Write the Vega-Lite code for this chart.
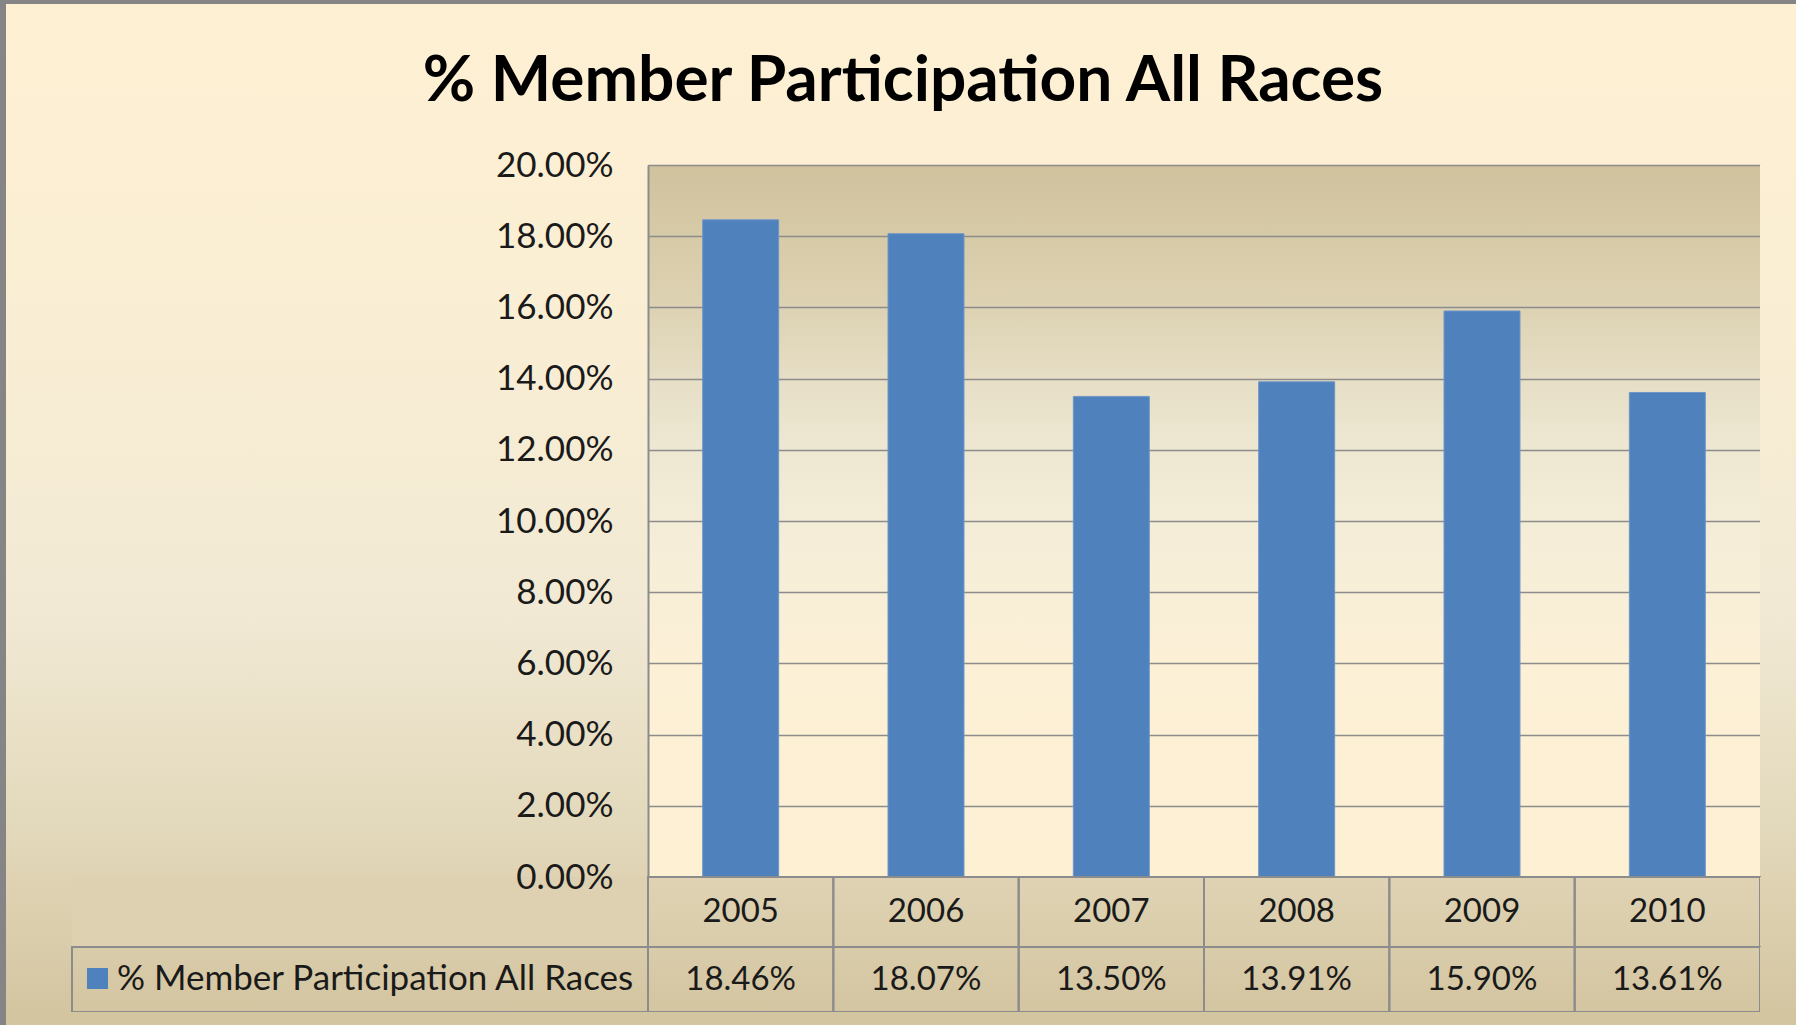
{
  "$schema": "https://vega.github.io/schema/vega-lite/v6.json",
  "padding": 0,
  "background": "#DDD1B1",
  "config": {"view": {"stroke": null}, "text": {"fontSize": 1}},
  "title": {"text": "% Member Participation All Races", "font": "Lato", "fontSize": 64, "fontWeight": "bold", "color": "#000000", "anchor": "middle", "offset": -114, "dx": 5},
  "data": {"values": [
    {"year": "2005", "pct": 0.1846},
    {"year": "2006", "pct": 0.1807},
    {"year": "2007", "pct": 0.1350},
    {"year": "2008", "pct": 0.1391},
    {"year": "2009", "pct": 0.1590},
    {"year": "2010", "pct": 0.1361}
  ]},
  "columns": 5,
  "spacing": 0,
  "bounds": "flush",
  "concat": [
    {"width": 6, "height": 4, "mark": {"type": "text", "text": ""}, "view": {"fill": "#858585"}},
    {"width": 66, "height": 4, "mark": {"type": "text", "text": ""}, "view": {"fill": "#858585"}},
    {"width": 576, "height": 4, "mark": {"type": "text", "text": ""}, "view": {"fill": "#858585"}},
    {"width": 1112, "height": 4, "mark": {"type": "text", "text": ""}, "view": {"fill": "#858585"}},
    {"width": 36, "height": 4, "mark": {"type": "text", "text": ""}, "view": {"fill": "#858585"}},

    {"width": 6, "height": 161, "mark": {"type": "text", "text": ""}, "view": {"fill": "#858585"}},
    {"width": 66, "height": 161, "mark": {"type": "text", "text": ""},
     "view": {"fill": {"gradient": "linear", "x1": 0, "y1": 0, "x2": 0, "y2": 1, "stops": [{"offset": 0, "color": "#FEF0D3"}, {"offset": 1, "color": "#FCEFD3"}]}}},
    {"width": 576, "height": 161, "mark": {"type": "text", "text": ""},
     "view": {"fill": {"gradient": "linear", "x1": 0, "y1": 0, "x2": 0, "y2": 1, "stops": [{"offset": 0, "color": "#FEF0D3"}, {"offset": 1, "color": "#FCEFD3"}]}}},
    {"width": 1112, "height": 161, "mark": {"type": "text", "text": ""},
     "view": {"fill": {"gradient": "linear", "x1": 0, "y1": 0, "x2": 0, "y2": 1, "stops": [{"offset": 0, "color": "#FEF0D3"}, {"offset": 1, "color": "#FCEFD3"}]}}},
    {"width": 36, "height": 161, "mark": {"type": "text", "text": ""},
     "view": {"fill": {"gradient": "linear", "x1": 0, "y1": 0, "x2": 0, "y2": 1, "stops": [{"offset": 0, "color": "#FEF0D3"}, {"offset": 1, "color": "#FCEFD3"}]}}},

    {"width": 6, "height": 712, "mark": {"type": "text", "text": ""}, "view": {"fill": "#858585"}},
    {"width": 66, "height": 712, "mark": {"type": "text", "text": ""},
     "view": {"fill": {"gradient": "linear", "x1": 0, "y1": 0, "x2": 0, "y2": 1, "stops": [
       {"offset": 0, "color": "#FCEFD3"}, {"offset": 0.26, "color": "#F9EED4"}, {"offset": 0.632, "color": "#F1E9D4"}, {"offset": 0.92, "color": "#E3D9BC"}, {"offset": 1, "color": "#DFD3B4"}]}}},
    {"width": 576, "height": 712, "mark": {"type": "text", "text": ""},
     "view": {"fill": {"gradient": "linear", "x1": 0, "y1": 0, "x2": 0, "y2": 1, "stops": [
       {"offset": 0, "color": "#FCEFD3"}, {"offset": 0.26, "color": "#F9EED4"}, {"offset": 0.632, "color": "#F1E9D4"}, {"offset": 0.92, "color": "#E3D9BC"}, {"offset": 1, "color": "#DFD3B4"}]}}},
    {"width": 1112, "height": 712,
     "view": {"fill": {"gradient": "linear", "x1": 0, "y1": 0, "x2": 0, "y2": 1, "stops": [
       {"offset": 0, "color": "#D1C29E"}, {"offset": 0.1, "color": "#D7CAA7"}, {"offset": 0.2, "color": "#DDD2B3"}, {"offset": 0.3, "color": "#E6DEC5"}, {"offset": 0.4, "color": "#EEE8D3"}, {"offset": 0.55, "color": "#F6EED8"}, {"offset": 0.7, "color": "#FCF0D6"}, {"offset": 1, "color": "#FEF0D3"}]}},
     "mark": {"type": "bar", "stroke": "#7096C8", "strokeWidth": 1},
     "encoding": {
       "x": {"field": "year", "type": "nominal", "sort": null, "axis": null, "scale": {"paddingInner": 0.59, "paddingOuter": 0.295}},
       "y": {"field": "pct", "type": "quantitative", "scale": {"domain": [0, 0.2], "nice": false},
             "axis": {"title": null, "values": [0, 0.02, 0.04, 0.06, 0.08, 0.1, 0.12, 0.14, 0.16, 0.18, 0.2], "format": ".2%",
                      "labelFont": "Lato", "labelFontSize": 35, "labelColor": "#1A1A1A", "labelPadding": 35, "ticks": false,
                      "domainColor": "#8C8C8C", "domainWidth": 2, "gridColor": "#8C8C8C", "gridWidth": 1.5, "labelBound": false}},
       "color": {"datum": "% Member Participation All Races", "type": "nominal", "scale": {"range": ["#4F81BD"]},
                 "legend": {"orient": "none", "legendX": 80, "legendY": 961, "title": null, "symbolType": "square", "symbolSize": 441,
                            "symbolStrokeWidth": 0, "labelFont": "Lato", "labelFontSize": 35, "labelColor": "#1A1A1A", "labelLimit": 900, "labelOffset": 2, "padding": 0}}
     }},
    {"width": 36, "height": 712, "mark": {"type": "text", "text": ""},
     "view": {"fill": {"gradient": "linear", "x1": 0, "y1": 0, "x2": 0, "y2": 1, "stops": [
       {"offset": 0, "color": "#FCEFD3"}, {"offset": 0.26, "color": "#F9EED4"}, {"offset": 0.632, "color": "#F1E9D4"}, {"offset": 0.92, "color": "#E3D9BC"}, {"offset": 1, "color": "#DFD3B4"}]}}},

    {"width": 6, "height": 70, "mark": {"type": "text", "text": ""}, "view": {"fill": "#858585"}},
    {"width": 66, "height": 70, "mark": {"type": "text", "text": ""},
     "view": {"fill": {"gradient": "linear", "x1": 0, "y1": 0, "x2": 0, "y2": 1, "stops": [{"offset": 0, "color": "#DFD3B4"}, {"offset": 1, "color": "#D9CCAA"}]}}},
    {"width": 576, "height": 70, "mark": {"type": "text", "text": ""}, "view": {"fill": null}},
    {"width": 1112, "height": 70,
     "view": {"fill": {"gradient": "linear", "x1": 0, "y1": 0, "x2": 0, "y2": 1, "stops": [{"offset": 0, "color": "#DFD3B4"}, {"offset": 1, "color": "#D9CCAA"}]}},
     "encoding": {"x": {"field": "year", "type": "nominal", "sort": null, "axis": null, "scale": {"paddingInner": 0, "paddingOuter": 0}}},
     "layer": [
       {"mark": {"type": "rect", "fill": "transparent", "stroke": "#8C8C8C", "strokeWidth": 2}},
       {"mark": {"type": "text", "font": "Lato", "fontSize": 33, "color": "#1A1A1A"}, "encoding": {"text": {"field": "year"}}}
     ]},
    {"width": 36, "height": 70, "mark": {"type": "text", "text": ""},
     "view": {"fill": {"gradient": "linear", "x1": 0, "y1": 0, "x2": 0, "y2": 1, "stops": [{"offset": 0, "color": "#DFD3B4"}, {"offset": 1, "color": "#D9CCAA"}]}}},

    {"width": 6, "height": 65, "mark": {"type": "text", "text": ""}, "view": {"fill": "#858585"}},
    {"width": 66, "height": 65, "mark": {"type": "text", "text": ""},
     "view": {"fill": {"gradient": "linear", "x1": 0, "y1": 0, "x2": 0, "y2": 1, "stops": [{"offset": 0, "color": "#D9CCAA"}, {"offset": 1, "color": "#D4C5A1"}]}}},
    {"width": 576, "height": 65, "mark": {"type": "text", "text": ""},
     "view": {"stroke": "#8C8C8C", "strokeWidth": 2, "fill": {"gradient": "linear", "x1": 0, "y1": 0, "x2": 0, "y2": 1, "stops": [{"offset": 0, "color": "#D9CCAA"}, {"offset": 1, "color": "#D4C5A1"}]}}},
    {"width": 1112, "height": 65,
     "view": {"fill": {"gradient": "linear", "x1": 0, "y1": 0, "x2": 0, "y2": 1, "stops": [{"offset": 0, "color": "#D9CCAA"}, {"offset": 1, "color": "#D4C5A1"}]}},
     "encoding": {"x": {"field": "year", "type": "nominal", "sort": null, "axis": null, "scale": {"paddingInner": 0, "paddingOuter": 0}}},
     "layer": [
       {"mark": {"type": "rect", "fill": "transparent", "stroke": "#8C8C8C", "strokeWidth": 2}},
       {"mark": {"type": "text", "font": "Lato", "fontSize": 33, "color": "#1A1A1A"}, "encoding": {"text": {"field": "pct", "type": "quantitative", "format": ".2%"}}}
     ]},
    {"width": 36, "height": 65, "mark": {"type": "text", "text": ""},
     "view": {"fill": {"gradient": "linear", "x1": 0, "y1": 0, "x2": 0, "y2": 1, "stops": [{"offset": 0, "color": "#D9CCAA"}, {"offset": 1, "color": "#D4C5A1"}]}}},

    {"width": 6, "height": 13, "mark": {"type": "text", "text": ""}, "view": {"fill": "#858585"}},
    {"width": 66, "height": 13, "mark": {"type": "text", "text": ""}, "view": {"fill": "#D3C5A0"}},
    {"width": 576, "height": 13, "mark": {"type": "text", "text": ""}, "view": {"fill": "#D3C5A0"}},
    {"width": 1112, "height": 13, "mark": {"type": "text", "text": ""}, "view": {"fill": "#D3C5A0"}},
    {"width": 36, "height": 13, "mark": {"type": "text", "text": ""}, "view": {"fill": "#D3C5A0"}}
  ]
}
